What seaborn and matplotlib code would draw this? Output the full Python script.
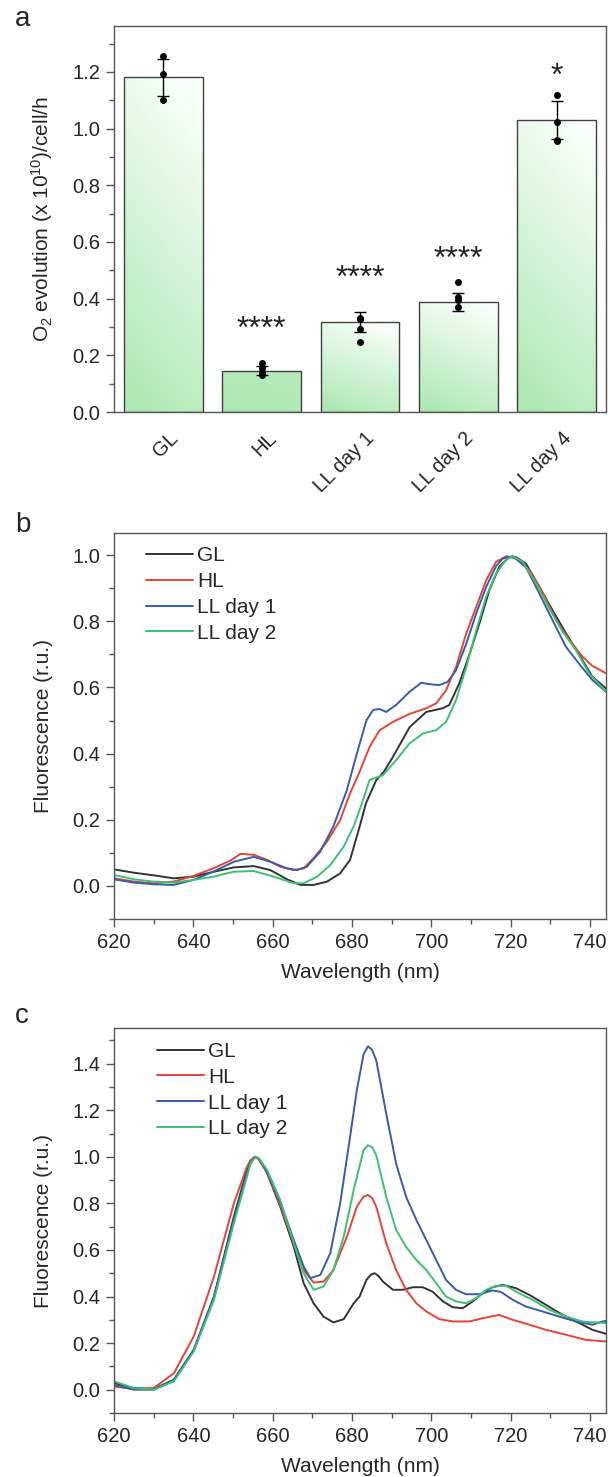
import numpy as np
import pandas as pd
import matplotlib
matplotlib.use('Agg')
import matplotlib.pyplot as plt
import matplotlib.transforms as mtrans
import seaborn as sns
from matplotlib.colors import LinearSegmentedColormap
from matplotlib.ticker import MultipleLocator

# ---- panel a: O2 evolution ----
conditions = ['GL', 'HL', 'LL day 1', 'LL day 2', 'LL day 4']
o2_mean = [1.181, 0.146, 0.318, 0.388, 1.031]
o2_err = [0.066, 0.015, 0.034, 0.033, 0.067]
pts_cond = ['GL'] * 3 + ['HL'] * 4 + ['LL day 1'] * 4 + ['LL day 2'] * 4 + ['LL day 4'] * 4
pts_val = [1.256, 1.191, 1.101,
           0.173, 0.155, 0.141, 0.131,
           0.331, 0.329, 0.293, 0.247,
           0.458, 0.405, 0.395, 0.372,
           1.119, 1.024, 0.958, 0.955]
stars = ['', '****', '****', '****', '*']
star_y = [0, 0.313, 0.490, 0.558, 1.205]

# ---- panel b: spectra ----
series = ['GL', 'HL', 'LL day 1', 'LL day 2']

b_gl_wl = [620, 625, 630, 635, 640, 645.2, 650.2, 655.2, 659.4, 663.6, 667, 670.3, 673.7, 677, 679.5,
           681.9, 683.5, 686.1, 688, 690.3, 694.5, 698.7, 702.8, 704.5, 707, 709.6, 712.1, 714.6, 717.1,
           719.6, 721.3, 723.8, 727.2, 730.5, 733.9, 737.2, 740.6, 744]
b_gl_fl = [0.050, 0.040, 0.032, 0.023, 0.028, 0.043, 0.056, 0.060, 0.048, 0.020, 0.003, 0.003, 0.013, 0.038, 0.079,
           0.179, 0.250, 0.320, 0.345, 0.390, 0.480, 0.526, 0.537, 0.547, 0.612, 0.700, 0.794, 0.894, 0.965,
           0.994, 0.994, 0.975, 0.904, 0.834, 0.764, 0.700, 0.632, 0.597]

b_hl_wl = [620, 625, 630, 635, 640, 645, 649.4, 651.9, 655.2, 658.6, 661.9, 665.3, 667.8, 670.3, 673.7, 677,
           679.5, 681.9, 684.4, 686.9, 690.3, 694.5, 698.7, 701.2, 703.7, 706.2, 708.8, 711.3, 713.8, 716.3,
           718.9, 721.3, 724.7, 728.1, 731.4, 734.8, 738.1, 740.6, 744]
b_hl_fl = [0.023, 0.013, 0.008, 0.013, 0.030, 0.053, 0.077, 0.097, 0.094, 0.079, 0.058, 0.048, 0.053, 0.084, 0.134, 0.199,
           0.280, 0.345, 0.420, 0.470, 0.496, 0.520, 0.537, 0.552, 0.592, 0.662, 0.764, 0.844, 0.924, 0.980,
           0.997, 0.990, 0.955, 0.885, 0.804, 0.743, 0.693, 0.665, 0.643]

b_ll1_wl = [620, 625, 630, 635, 640, 645, 650.2, 655.2, 659.4, 663.6, 666.1, 668.6, 672, 675.3, 678.7, 681.2,
            683.6, 685.3, 686.9, 688.6, 691.1, 694.5, 697.4, 699.5, 702, 704.1, 706.2, 708.8, 711.3, 713.8,
            716.3, 718, 720.5, 723.8, 727.2, 730.5, 733.9, 737.2, 740.6, 744]
b_ll1_fl = [0.020, 0.010, 0.005, 0.003, 0.018, 0.043, 0.073, 0.088, 0.073, 0.053, 0.048, 0.058, 0.104, 0.180, 0.290, 0.400,
            0.500, 0.532, 0.535, 0.526, 0.547, 0.587, 0.614, 0.610, 0.607, 0.617, 0.652, 0.733, 0.824, 0.904,
            0.967, 0.990, 0.997, 0.964, 0.884, 0.804, 0.723, 0.672, 0.622, 0.587]

b_ll2_wl = [620, 625, 630, 635, 640, 645, 650.2, 655.2, 660.3, 665.3, 667.8, 671.2, 674.5, 677.9, 680.4, 682.5,
            684.4, 687.8, 691.1, 694.5, 697.9, 701.2, 703.7, 706.2, 708.8, 711.3, 713.8, 716.3, 718.9, 720.5,
            723, 726.4, 729.7, 733.1, 736.4, 739.8, 744]
b_ll2_fl = [0.033, 0.020, 0.013, 0.010, 0.018, 0.028, 0.043, 0.045, 0.028, 0.008, 0.008, 0.028, 0.063, 0.119, 0.180, 0.250,
            0.320, 0.335, 0.380, 0.431, 0.461, 0.471, 0.496, 0.562, 0.662, 0.773, 0.874, 0.945, 0.987, 0.997,
            0.980, 0.914, 0.839, 0.768, 0.713, 0.642, 0.587]

# ---- panel c: spectra ----
c_gl_wl = [620, 625, 630, 635.1, 640.1, 645.2, 650.2, 653.5, 654.4, 655.6, 656.6, 657.3, 658.6, 661.9, 665.3,
           667.8, 670.3, 672.8, 675.3, 677.9, 680.4, 681.9, 683.6, 684.8, 685.7, 686.7, 687.8, 690.3, 692.8,
           695.3, 697.8, 700.3, 702.9, 705.4, 707.9, 710.4, 712.9, 715.4, 718, 721.3, 724.7, 728.9, 733.1,
           737.3, 740.6, 744]
c_gl_fl = [0.029, 0.007, 0.003, 0.043, 0.171, 0.400, 0.743, 0.943, 0.975, 1.000, 0.990, 0.971, 0.929, 0.786, 0.614,
           0.457, 0.371, 0.314, 0.289, 0.303, 0.371, 0.400, 0.471, 0.495, 0.500, 0.488, 0.464, 0.429, 0.429,
           0.440, 0.440, 0.421, 0.379, 0.354, 0.350, 0.379, 0.414, 0.440, 0.450, 0.436, 0.407, 0.364, 0.321,
           0.286, 0.257, 0.240]

c_hl_wl = [620, 625, 630, 635.1, 640.1, 645.2, 650.2, 653.5, 654.4, 655.4, 656.3, 657.3, 658.6, 661.9, 665.3,
           667.8, 670.3, 672.8, 675.3, 678.7, 681.2, 682.9, 684, 685.1, 686.1, 688.6, 691.1, 693.6, 696.2,
           698.7, 702, 705.4, 709.6, 712.9, 717.1, 720.5, 724.7, 728.9, 733.9, 738.9, 744]
c_hl_fl = [0.014, 0.003, 0.007, 0.071, 0.229, 0.486, 0.800, 0.957, 0.985, 1.000, 0.993, 0.965, 0.936, 0.793, 0.629,
           0.514, 0.460, 0.464, 0.514, 0.657, 0.786, 0.829, 0.836, 0.822, 0.786, 0.629, 0.514, 0.429, 0.371,
           0.336, 0.303, 0.293, 0.293, 0.307, 0.321, 0.300, 0.279, 0.257, 0.236, 0.214, 0.207]

c_ll1_wl = [620, 625, 630, 635.1, 640.1, 645.2, 650.2, 653.5, 654.4, 655.6, 656.6, 657.3, 658.6, 661.9, 665.3,
            667.8, 669.5, 672, 674.5, 677, 679.5, 681.2, 682.9, 684, 685, 686.1, 688.6, 691.1, 693.6, 696.2,
            698.7, 701.2, 703.7, 706.2, 708.7, 712.1, 715.4, 717.5, 720.5, 723.8, 728, 732.2, 736.4, 740.6,
            743.1, 744]
c_ll1_fl = [0.021, 0.000, 0.000, 0.043, 0.171, 0.400, 0.729, 0.929, 0.975, 1.000, 0.990, 0.971, 0.936, 0.807, 0.643,
            0.529, 0.479, 0.493, 0.586, 0.800, 1.086, 1.286, 1.440, 1.474, 1.460, 1.414, 1.186, 0.971, 0.829, 0.729,
            0.643, 0.557, 0.471, 0.429, 0.410, 0.410, 0.426, 0.420, 0.386, 0.357, 0.336, 0.314, 0.293, 0.279,
            0.293, 0.295]

c_ll2_wl = [620, 625, 630, 635.1, 640.1, 645.2, 650.2, 653.5, 654.4, 655.6, 656.6, 657.3, 658.6, 661.9, 665.3,
            667.8, 670.3, 672.8, 675.3, 677.9, 680.4, 682.9, 684, 685.1, 686.1, 688.6, 691.1, 693.6, 696.2,
            698.7, 701.2, 703.7, 706.2, 708.7, 711.3, 713.8, 716.3, 718.8, 722.1, 725.5, 729.7, 733.9, 738.1, 744]
c_ll2_fl = [0.036, 0.007, 0.000, 0.036, 0.164, 0.386, 0.714, 0.914, 0.970, 1.000, 0.992, 0.975, 0.943, 0.814, 0.629,
            0.500, 0.429, 0.443, 0.514, 0.657, 0.857, 1.029, 1.050, 1.040, 1.007, 0.829, 0.686, 0.614, 0.557,
            0.514, 0.457, 0.400, 0.379, 0.371, 0.393, 0.429, 0.446, 0.446, 0.414, 0.386, 0.343, 0.314, 0.293, 0.286]

line_colors = ['#333333', '#e0453a', '#3a5ba8', '#3fbf73']

sns.set_theme(style='ticks')
plt.rcParams['font.family'] = ['Liberation Sans', 'DejaVu Sans']
plt.rcParams['mathtext.default'] = 'regular'

W, H = 608, 1477
fig = plt.figure(figsize=(W / 100, H / 100), dpi=100)
fig.patch.set_facecolor('white')

TICK_FS = 14.5
LABEL_FS = 15


def px_axes(left, top, right, bottom):
    return fig.add_axes([left / W, 1 - bottom / H, (right - left) / W, (bottom - top) / H])


def style_axes(ax):
    for s in ax.spines.values():
        s.set_visible(True)
        s.set_color('#555555')
        s.set_linewidth(1.0)
    ax.tick_params(axis='both', which='major', direction='out', length=6, width=1,
                   color='#555555', labelsize=TICK_FS, pad=4, top=False, right=False)
    ax.tick_params(axis='both', which='minor', direction='out', length=3.5, width=1,
                   color='#555555', top=False, right=False)


# ---------------- panel a ----------------
ax_a = px_axes(114, 26, 606, 412)
df_bar = pd.DataFrame({'condition': conditions, 'o2': o2_mean})
sns.barplot(data=df_bar, x='condition', y='o2', order=conditions, ax=ax_a,
            color='white', edgecolor='#404040', linewidth=1.0, width=0.8, errorbar=None, zorder=2)

green_bottom = '#ade9b3'
top_cols = ['#fbfffb', '#b6ebbb', '#fbfffb', '#fbfffb', '#fbfffb']
yy, xx = np.mgrid[0:1:200j, 0:1:50j]
grad = np.clip(0.85 * yy + 0.25 * xx - 0.05, 0, 1)
for patch, ctop in zip(ax_a.patches, top_cols):
    x0, y0 = patch.get_x(), patch.get_y()
    w, h = patch.get_width(), patch.get_height()
    cmap = LinearSegmentedColormap.from_list('bar', [green_bottom, ctop])
    im = ax_a.imshow(grad, cmap=cmap, origin='lower', aspect='auto',
                     extent=[x0, x0 + w, y0, y0 + h], zorder=1.5, interpolation='bilinear')
    im.set_clip_path(patch)
    patch.set_facecolor('none')

ax_a.errorbar(range(len(conditions)), o2_mean, yerr=o2_err, fmt='none', ecolor='black',
              elinewidth=1.0, capsize=4.5, capthick=1.0, zorder=3)
df_pts = pd.DataFrame({'condition': pts_cond, 'o2': pts_val})
sns.stripplot(data=df_pts, x='condition', y='o2', order=conditions, ax=ax_a,
              color='black', size=5, jitter=False, zorder=4)

for i, (s, y) in enumerate(zip(stars, star_y)):
    if s:
        ax_a.text(i, y - 0.05, s, ha='center', va='baseline', fontsize=23, color='#222222')

ax_a.set_xlim(-0.5, 4.5)
ax_a.set_ylim(0, 1.362)
ax_a.yaxis.set_major_locator(MultipleLocator(0.2))
ax_a.yaxis.set_minor_locator(MultipleLocator(0.1))
ax_a.set_xlabel('')
ax_a.set_ylabel('O$_2$ evolution (x 10$^{10}$)/cell/h', fontsize=LABEL_FS, labelpad=12)
style_axes(ax_a)
ax_a.tick_params(axis='x', which='both', length=0, pad=11)
ax_a.set_yticks(ax_a.get_yticks())
ax_a.set_yticklabels([f'{v:.1f}' for v in ax_a.get_yticks()])
ax_a.set_ylim(0, 1.362)
offset = mtrans.ScaledTranslation(0.05, -0.01, fig.dpi_scale_trans)
for lab in ax_a.get_xticklabels():
    lab.set_rotation(45)
    lab.set_ha('right')
    lab.set_va('top')
    lab.set_rotation_mode('anchor')
    lab.set_fontsize(TICK_FS)
    lab.set_transform(lab.get_transform() + offset)


# ---------------- spectra panels ----------------
def spectra_df(wls, fls):
    frames = []
    for name, wl, fl in zip(series, wls, fls):
        frames.append(pd.DataFrame({'wavelength': wl, 'fluorescence': fl, 'sample': name}))
    return pd.concat(frames, ignore_index=True)


def spectra_panel(ax, df, ylim, leg_x, leg_y):
    sns.lineplot(data=df, x='wavelength', y='fluorescence', hue='sample', hue_order=series,
                 palette=line_colors, linewidth=1.4, sort=False, estimator=None, ax=ax)
    ax.set_xlim(620, 744)
    ax.set_ylim(*ylim)
    ax.xaxis.set_major_locator(MultipleLocator(20))
    ax.xaxis.set_minor_locator(MultipleLocator(10))
    ax.yaxis.set_major_locator(MultipleLocator(0.2))
    ax.yaxis.set_minor_locator(MultipleLocator(0.1))
    ax.set_xlabel('Wavelength (nm)', fontsize=LABEL_FS, labelpad=8)
    ax.set_ylabel('Fluorescence (r.u.)', fontsize=LABEL_FS, labelpad=14)
    style_axes(ax)
    ticks = [t for t in ax.get_yticks() if ylim[0] - 1e-9 <= t <= ylim[1] + 1e-9 and t >= -1e-9]
    ax.set_yticks(ticks)
    ax.set_yticklabels([f'{abs(v):.1f}' if abs(v) < 1e-9 else f'{v:.1f}' for v in ticks])
    ax.set_ylim(*ylim)
    ax.legend(frameon=False, loc='upper left', bbox_to_anchor=(leg_x, leg_y), borderaxespad=0,
              borderpad=0, fontsize=LABEL_FS, handlelength=2.25, handletextpad=0.22, labelspacing=0.33,
              title=None)


ax_b = px_axes(114, 533, 606, 919)
df_b = spectra_df([b_gl_wl, b_hl_wl, b_ll1_wl, b_ll2_wl], [b_gl_fl, b_hl_fl, b_ll1_fl, b_ll2_fl])
spectra_panel(ax_b, df_b, (-0.1, 1.067), 0.065, 0.966)

ax_c = px_axes(114, 1028, 606, 1413)
df_c = spectra_df([c_gl_wl, c_hl_wl, c_ll1_wl, c_ll2_wl], [c_gl_fl, c_hl_fl, c_ll1_fl, c_ll2_fl])
spectra_panel(ax_c, df_c, (-0.1, 1.553), 0.087, 0.964)

# panel letters
fig.text(15 / W, 1 - 26 / H, 'a', fontsize=20, ha='left', va='baseline')
fig.text(15 / W, 1 - 532 / H, 'b', fontsize=20, ha='left', va='baseline')
fig.text(15 / W, 1 - 1023 / H, 'c', fontsize=20, ha='left', va='baseline')

fig.savefig('out.png', dpi=100, facecolor='white')
